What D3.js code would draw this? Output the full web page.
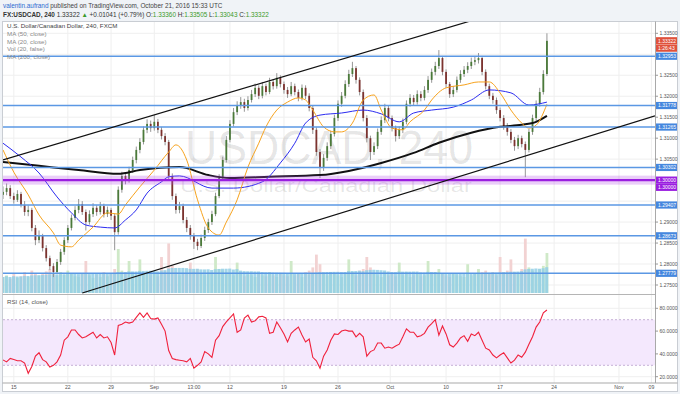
<!DOCTYPE html>
<html>
<head>
<meta charset="utf-8">
<script src="https://cdn.jsdelivr.net/npm/d3@7"></script>
<style>
  body { margin: 0; background: #f0f3f7; }
  svg { display: block; font-family: "Liberation Sans", Arial, sans-serif; }
</style>
</head>
<body>
<svg id="chart" width="680" height="394"></svg>
<script>
// ---- data (240 min USDCAD, one entry every ~8h) ----
const firstOpen = 1.2965;
const closes = [1.2972,1.2981,1.2962,1.2953,1.2967,1.2941,1.2924,1.2929,1.2886,1.2857,
1.2867,1.2838,1.2814,1.2795,1.2781,1.2805,1.2829,1.2857,1.2886,1.2910,
1.2929,1.2943,1.2924,1.2900,1.2919,1.2934,1.2924,1.2938,1.2919,1.2929,
1.2915,1.2876,1.2977,1.3010,1.3000,1.3024,1.3048,1.3072,1.3091,1.3120,
1.3134,1.3124,1.3139,1.3120,1.3105,1.3091,1.3010,1.2962,1.2929,1.2938,
1.2905,1.2886,1.2867,1.2853,1.2843,1.2862,1.2881,1.2900,1.2919,1.2962,
1.3005,1.3048,1.3096,1.3134,1.3162,1.3177,1.3186,1.3172,1.3191,1.3205,
1.3220,1.3201,1.3224,1.3210,1.3234,1.3224,1.3244,1.3229,1.3215,1.3205,
1.3224,1.3210,1.3196,1.3220,1.3201,1.3172,1.3120,1.3067,1.3029,1.3053,
1.3081,1.3110,1.3148,1.3182,1.3201,1.3229,1.3253,1.3267,1.3239,1.3210,
1.3148,1.3100,1.3067,1.3081,1.3115,1.3143,1.3172,1.3148,1.3124,1.3105,
1.3120,1.3139,1.3182,1.3196,1.3186,1.3205,1.3196,1.3215,1.3239,1.3258,
1.3272,1.3291,1.3258,1.3229,1.3205,1.3215,1.3239,1.3253,1.3263,1.3272,
1.3282,1.3286,1.3291,1.3258,1.3224,1.3201,1.3191,1.3167,1.3148,1.3129,
1.3115,1.3096,1.3081,1.3100,1.3086,1.3072,1.3115,1.3148,1.3182,1.3210,
1.3253,1.3332];
const highs = [1.2985,1.2992,1.2988,1.2970,1.2976,1.2972,1.2950,1.2940,1.2934,1.2893,
1.2880,1.2872,1.2845,1.2820,1.2802,1.2812,1.2836,1.2864,1.2893,1.2918,
1.2938,1.2955,1.2950,1.2930,1.2928,1.2945,1.2940,1.2948,1.2944,1.2937,
1.2934,1.2920,1.2985,1.3020,1.3018,1.3032,1.3056,1.3080,1.3100,1.3128,
1.3145,1.3142,1.3155,1.3146,1.3127,1.3112,1.3096,1.3016,1.2968,1.2948,
1.2944,1.2912,1.2893,1.2874,1.2860,1.2870,1.2889,1.2908,1.2927,1.2970,
1.3014,1.3056,1.3105,1.3143,1.3172,1.3188,1.3198,1.3194,1.3200,1.3215,
1.3230,1.3226,1.3234,1.3230,1.3244,1.3240,1.3255,1.3250,1.3235,1.3222,
1.3234,1.3230,1.3216,1.3228,1.3226,1.3207,1.3178,1.3126,1.3074,1.3062,
1.3090,1.3118,1.3156,1.3190,1.3210,1.3238,1.3263,1.3282,1.3272,1.3245,
1.3216,1.3155,1.3106,1.3090,1.3123,1.3152,1.3182,1.3178,1.3154,1.3130,
1.3128,1.3147,1.3190,1.3205,1.3203,1.3214,1.3212,1.3224,1.3248,1.3266,
1.3282,1.3310,1.3296,1.3264,1.3234,1.3224,1.3247,1.3262,1.3272,1.3281,
1.3292,1.3296,1.3303,1.3296,1.3264,1.3230,1.3208,1.3197,1.3173,1.3155,
1.3136,1.3122,1.3103,1.3108,1.3106,1.3092,1.3122,1.3156,1.3190,1.3220,
1.3262,1.3350];
const lows = [1.2955,1.2964,1.2955,1.2944,1.2948,1.2935,1.2915,1.2914,1.2878,1.2845,
1.2850,1.2830,1.2806,1.2786,1.2769,1.2776,1.2798,1.2822,1.2850,1.2880,
1.2904,1.2921,1.2917,1.2880,1.2894,1.2912,1.2915,1.2918,1.2911,1.2912,
1.2905,1.2833,1.2870,1.2970,1.2990,1.2994,1.3017,1.3040,1.3064,1.3085,
1.3112,1.3115,1.3118,1.3112,1.3097,1.3083,1.3002,1.2953,1.2920,1.2921,
1.2897,1.2876,1.2858,1.2836,1.2833,1.2838,1.2855,1.2874,1.2893,1.2914,
1.2957,1.3000,1.3042,1.3090,1.3128,1.3155,1.3170,1.3163,1.3166,1.3185,
1.3198,1.3193,1.3195,1.3202,1.3205,1.3216,1.3218,1.3221,1.3206,1.3196,
1.3200,1.3202,1.3188,1.3190,1.3193,1.3164,1.3110,1.3058,1.3005,1.3022,
1.3046,1.3074,1.3104,1.3141,1.3175,1.3195,1.3222,1.3246,1.3230,1.3202,
1.3140,1.3090,1.3048,1.3060,1.3074,1.3108,1.3136,1.3140,1.3116,1.3092,
1.3098,1.3112,1.3133,1.3175,1.3178,1.3180,1.3188,1.3190,1.3208,1.3232,
1.3250,1.3265,1.3250,1.3220,1.3196,1.3198,1.3209,1.3232,1.3246,1.3255,
1.3265,1.3274,1.3278,1.3250,1.3216,1.3193,1.3182,1.3158,1.3140,1.3120,
1.3106,1.3088,1.3070,1.3074,1.3078,1.3007,1.3066,1.3108,1.3140,1.3175,
1.3204,1.3248];
const volumes = [20,22,18,24,19,21,26,20,28,24,
22,25,27,30,24,22,26,23,28,25,
21,20,24,40,22,19,23,20,26,21,
24,30,55,28,26,40,24,22,42,25,
24,22,26,21,45,28,62,34,26,22,
25,24,38,27,30,24,22,26,24,45,
30,28,26,24,22,38,24,21,23,22,
20,24,22,21,26,22,20,24,22,21,
40,22,24,20,26,28,32,48,36,24,
22,26,24,22,20,24,42,26,22,28,
30,45,32,24,22,20,26,22,24,21,
38,22,26,20,22,24,21,22,40,24,
26,30,24,22,20,24,22,21,20,36,
22,24,30,26,28,24,26,22,45,26,
28,42,26,24,30,68,32,28,26,30,
34,50];
const rsi = [34.7,33,36,35,34,34,32,23,29,38,
41,35,33,28.5,30,33,39,52,55,61,
61,57,54,55,57,59,54,57,54,55,
50,39,65,66,68,67,68,72,76,72,
76,71,70.5,71.5,66,60,43,36,35,34.5,
34,33,36,27.5,30,33,42,40,37,52,
56,64,68,71.5,75,59,61,71.5,74,68,
69,72.5,73,71.5,58,59,68,63,57.5,50.5,
58,61,63.5,56.5,50.5,53,37,34,27.5,38,
43.5,52,57.5,57,60,61,60,60,55,58,
55,38,42,43.5,49.5,49.5,45,46,45,47,
48.5,55,62,59,59,55,56,58,63.5,66.5,
70,56.5,64.5,57.5,48,46,49.5,54,56,51,
57.5,56,59,52,45,43.5,39,36.5,39,41,
36.5,32,34.5,39,37,41.5,48.5,55,63.5,68,
76,78.5];

// moving averages: [bar index, price]
const ma200 = [[0,1.3043],[10,1.3034],[21,1.3024],[32,1.3015],[38,1.3024],[49,1.3031],[57,1.3012],[63,1.3005],[74,1.3008],[88,1.3012],[96,1.3022],[105,1.3041],[114,1.3065],[121,1.3089],[130,1.3113],[138,1.3127],[144,1.3132],[148,1.3139],[151,1.3153]];
const ma50 = [[0,1.3088],[5,1.3055],[10,1.3017],[15,1.2960],[19,1.2922],[23,1.2893],[27,1.2888],[31,1.2886],[34,1.2905],[37,1.2929],[40,1.2969],[44,1.2996],[46,1.3008],[49,1.3010],[58,1.2981],[64,1.2981],[72,1.2996],[77,1.3041],[81,1.3088],[84,1.3136],[88,1.3155],[94,1.3160],[100,1.3167],[105,1.3158],[110,1.3139],[114,1.3160],[119,1.3167],[125,1.3174],[130,1.3191],[135,1.3215],[141,1.3208],[146,1.3179],[151,1.3186]];
const ma20 = [[0,1.3072],[3,1.3019],[7,1.2965],[10,1.2917],[14,1.2874],[16,1.2845],[19,1.2841],[21,1.2857],[25,1.2888],[29,1.2922],[32,1.2919],[34,1.2941],[38,1.2984],[42,1.3024],[46,1.3067],[48,1.3084],[51,1.3048],[54,1.2953],[57,1.2886],[60,1.2869],[62,1.2900],[65,1.2953],[68,1.3031],[71,1.3088],[73,1.3127],[76,1.3167],[79,1.3186],[82,1.3196],[84,1.3191],[86,1.3167],[89,1.3127],[92,1.3115],[94,1.3115],[97,1.3136],[100,1.3191],[103,1.3203],[105,1.3167],[108,1.3124],[111,1.3120],[113,1.3139],[117,1.3167],[119,1.3191],[123,1.3220],[128,1.3227],[132,1.3234],[135,1.3234],[138,1.3208],[141,1.3167],[144,1.3136],[146,1.3124],[148,1.3131],[151,1.3181]];

// drawings
const trendLines = [[[0,1.3048],[130,1.3380]], [[22,1.2731],[181,1.3153]]];
const levels = [1.32953, 1.31778, 1.31265, 1.30302, 1.29407, 1.28673, 1.27779];
const roundLevel = 1.30000;
const lastPrice = 1.33322;
const countdown = '1:26:43';

// axes
const dateTicks = [3,18,30,42,53,63,78,93,107.5,123,138,153,171,180];
const dateLabels = ['15','22','29','Sep','13:00','12','19','26','Oct','10','17','24','Nov','09'];
const priceTicks = [1.275,1.280,1.285,1.290,1.295,1.300,1.305,1.310,1.315,1.320,1.325,1.330,1.335];
const rsiTicks = [20,40,60,80];

const legendLines = ['MA (50, close)','MA (20, close)','Vol (20, false)','MA (200, close)'];

// ---- scales ----
const left = 3, right = 655;
const x = d3.scaleLinear().domain([0,181]).range([left, right]);
const y = d3.scaleLinear().domain([1.275,1.335]).range([285,33.3]);
const yRsi = d3.scaleLinear().domain([20,80]).range([376.7,308.3]);
const yVol = d3.scaleLinear().domain([0,100]).range([293,213]);

const svg = d3.select('#chart');
const defs = svg.append('defs');
defs.append('clipPath').attr('id','clipMain').append('rect')
  .attr('x',left).attr('y',22).attr('width',right-left).attr('height',272);
defs.append('clipPath').attr('id','clipRsi').append('rect')
  .attr('x',left).attr('y',295).attr('width',right-left).attr('height',88);

// frame
svg.append('rect').attr('x',2.5).attr('y',21.5).attr('width',675).attr('height',370)
  .attr('fill','#fff').attr('stroke','#c9cdd3');

// header
const h1 = svg.append('text').attr('x',3).attr('y',8).attr('font-size',6.4).attr('fill','#444');
h1.append('tspan').attr('fill','#2c6bd0').text('valentin.aufrand');
h1.append('tspan').text(' published on TradingView.com, October 21, 2016 15:33 UTC');
const h2 = svg.append('text').attr('x',3).attr('y',17.3).attr('font-size',6.4).attr('fill','#333');
h2.append('tspan').attr('font-weight','bold').text('FX:USDCAD, 240');
h2.append('tspan').text(' 1.33322 ');
h2.append('tspan').attr('fill','#3c9a2a').text('\u25B2');
h2.append('tspan').text(' +0.01041 (+0.79%) O:');
h2.append('tspan').attr('fill','#3c9a2a').text('1.33360');
h2.append('tspan').text(' H:');
h2.append('tspan').attr('fill','#3c9a2a').text('1.33505');
h2.append('tspan').text(' L:');
h2.append('tspan').attr('fill','#3c9a2a').text('1.33043');
h2.append('tspan').text(' C:');
h2.append('tspan').attr('fill','#3c9a2a').text('1.33322');

// grid
const grid = svg.append('g').attr('stroke','#efefef').attr('stroke-width',1);
dateTicks.forEach(function (t) {
  grid.append('line').attr('x1',x(t)).attr('x2',x(t)).attr('y1',22).attr('y2',383);
});
priceTicks.forEach(function (t) {
  grid.append('line').attr('x1',left).attr('x2',right).attr('y1',y(t)).attr('y2',y(t));
});
rsiTicks.forEach(function (t) {
  grid.append('line').attr('x1',left).attr('x2',right).attr('y1',yRsi(t)).attr('y2',yRsi(t));
});

const main = svg.append('g').attr('clip-path','url(#clipMain)');

// watermark
main.append('text').attr('x',329).attr('y',164).attr('text-anchor','middle')
  .attr('font-size',49).attr('textLength',288).attr('lengthAdjust','spacingAndGlyphs')
  .attr('fill','#000').attr('fill-opacity',0.1).text('USDCAD, 240');
main.append('text').attr('x',326).attr('y',192).attr('text-anchor','middle')
  .attr('font-size',19).attr('textLength',292).attr('lengthAdjust','spacingAndGlyphs')
  .attr('fill','#000').attr('fill-opacity',0.1).text('U.S. Dollar/Canadian Dollar');

// candles table
const bars = closes.map(function (c, i) {
  return { i: i, o: i === 0 ? firstOpen : closes[i-1], h: highs[i], l: lows[i], c: c, v: volumes[i] };
});

// volume
main.selectAll('rect.vol').data(bars).enter().append('rect')
  .attr('class','vol')
  .attr('x', function (d) { return x(d.i) - 1.4; })
  .attr('width', 2.8)
  .attr('y', function (d) { return yVol(d.v); })
  .attr('height', function (d) { return yVol(0) - yVol(d.v); })
  .attr('fill', function (d) { return d.c >= d.o ? '#cfe9c8' : '#f2d2d2'; });

// volume MA (20) columns
const volMa = bars.map(function (d, i) {
  return { i: i, v: d3.mean(volumes.slice(Math.max(0, i-19), i+1)) };
});
main.selectAll('rect.volma').data(volMa).enter().append('rect')
  .attr('class','volma')
  .attr('x', function (d) { return x(d.i) - 1.8; })
  .attr('width', 3.1)
  .attr('y', function (d) { return yVol(d.v); })
  .attr('height', function (d) { return yVol(0) - yVol(d.v); })
  .attr('fill', '#93cfe6').attr('fill-opacity',0.85);

// candles
const cg = main.append('g');
cg.selectAll('line.wick').data(bars).enter().append('line')
  .attr('class','wick')
  .attr('x1', function (d) { return x(d.i); })
  .attr('x2', function (d) { return x(d.i); })
  .attr('y1', function (d) { return y(d.h); })
  .attr('y2', function (d) { return y(d.l); })
  .attr('stroke','#8a8a8a').attr('stroke-width',0.9);
cg.selectAll('rect.body').data(bars).enter().append('rect')
  .attr('class','body')
  .attr('x', function (d) { return x(d.i) - 0.9; })
  .attr('width', 1.8)
  .attr('y', function (d) { return y(Math.max(d.o, d.c)); })
  .attr('height', function (d) { return Math.max(0.8, Math.abs(y(d.o) - y(d.c))); })
  .attr('fill', function (d) { return d.c >= d.o ? '#4b7a3a' : '#7c332f'; });

// moving averages
const maLine = d3.line()
  .x(function (d) { return x(d[0]); })
  .y(function (d) { return y(d[1]); })
  .curve(d3.curveMonotoneX);
main.append('path').attr('d', maLine(ma200)).attr('fill','none').attr('stroke','#111').attr('stroke-width',2);
main.append('path').attr('d', maLine(ma50)).attr('fill','none').attr('stroke','#2b2bf0').attr('stroke-width',1);
main.append('path').attr('d', maLine(ma20)).attr('fill','none').attr('stroke','#f7a21c').attr('stroke-width',1);

// round number band
main.append('rect').attr('x',left).attr('width',right-left)
  .attr('y', y(roundLevel) - 4.5).attr('height', 9)
  .attr('fill','#b44ee6').attr('fill-opacity',0.28);
main.append('line').attr('x1',left).attr('x2',right)
  .attr('y1', y(roundLevel)).attr('y2', y(roundLevel))
  .attr('stroke','#9a1ee0').attr('stroke-width',2.2);

// horizontal levels
main.selectAll('line.level').data(levels).enter().append('line')
  .attr('class','level')
  .attr('x1',left).attr('x2',right)
  .attr('y1', function (d) { return y(d); })
  .attr('y2', function (d) { return y(d); })
  .attr('stroke','#5b98e4').attr('stroke-width',1.5);

// trend lines
main.selectAll('line.trend').data(trendLines).enter().append('line')
  .attr('class','trend')
  .attr('x1', function (d) { return x(d[0][0]); })
  .attr('y1', function (d) { return y(d[0][1]); })
  .attr('x2', function (d) { return x(d[1][0]); })
  .attr('y2', function (d) { return y(d[1][1]); })
  .attr('stroke','#111').attr('stroke-width',1.2);

// legend
svg.append('text').attr('x',7).attr('y',28.3).attr('font-size',6.2).attr('fill','#444')
  .text('U.S. Dollar/Canadian Dollar, 240, FXCM');
svg.selectAll('text.leg').data(legendLines).enter().append('text')
  .attr('class','leg')
  .attr('x',7)
  .attr('y', function (d, i) { return 36 + i * 7.7; })
  .attr('font-size',6.2).attr('fill','#8a8a8a')
  .text(function (d) { return d; });

// ---- RSI pane ----
svg.append('line').attr('x1',2.5).attr('x2',right).attr('y1',294.5).attr('y2',294.5)
  .attr('stroke','#b5b5b5');
const rp = svg.append('g').attr('clip-path','url(#clipRsi)');
rp.append('rect').attr('x',left).attr('width',right-left)
  .attr('y', yRsi(70)).attr('height', yRsi(30) - yRsi(70))
  .attr('fill','#f4e8fd');
[70,30].forEach(function (v) {
  rp.append('line').attr('x1',left).attr('x2',right).attr('y1',yRsi(v)).attr('y2',yRsi(v))
    .attr('stroke','#c5b1d6').attr('stroke-dasharray','2,2');
});
const rsiLine = d3.line()
  .x(function (d, i) { return x(i); })
  .y(function (d) { return yRsi(d); });
rp.append('path').attr('d', rsiLine(rsi)).attr('fill','none')
  .attr('stroke','#f0213c').attr('stroke-width',1.1);
svg.append('text').attr('x',7).attr('y',304).attr('font-size',6.2).attr('fill','#555')
  .text('RSI (14, close)');

// ---- axes ----
svg.append('line').attr('x1',right+0.5).attr('x2',right+0.5).attr('y1',21.5).attr('y2',383)
  .attr('stroke','#a9a9a9');
svg.append('line').attr('x1',2.5).attr('x2',677.5).attr('y1',383).attr('y2',383)
  .attr('stroke','#a9a9a9');

const xAxis = svg.append('g').attr('font-size',5.2).attr('fill','#555');
dateTicks.forEach(function (t, k) {
  xAxis.append('text').attr('x', x(t)).attr('y', 389.3).attr('text-anchor','middle')
    .text(dateLabels[k]);
});

// price labels (drawn after so axis text can avoid them)
const labelYs = levels.map(function (d) { return y(d); })
  .concat([y(roundLevel), y(lastPrice)]);
const yAxis = svg.append('g').attr('font-size',5).attr('fill','#555');
priceTicks.forEach(function (t) {
  const py = y(t);
  if (labelYs.some(function (ly) { return Math.abs(ly - py) < 4; })) return;
  yAxis.append('line').attr('x1',right).attr('x2',right+3).attr('y1',py).attr('y2',py).attr('stroke','#999');
  yAxis.append('text').attr('x',right+4.5).attr('y',py + 1.8).text(t.toFixed(5));
});
rsiTicks.forEach(function (t) {
  const py = yRsi(t);
  yAxis.append('line').attr('x1',right).attr('x2',right+3).attr('y1',py).attr('y2',py).attr('stroke','#999');
  yAxis.append('text').attr('x',right+4.5).attr('y',py + 1.8).text(t.toFixed(4));
});

function tag(py, txt, color) {
  svg.append('rect').attr('x',right+1).attr('y',py-3.6).attr('width',21).attr('height',7.2)
    .attr('fill',color);
  svg.append('text').attr('x',right+3).attr('y',py+1.9).attr('font-size',5)
    .attr('fill','#fff').text(txt);
}
levels.forEach(function (d) { tag(y(d), d.toFixed(5), '#4587de'); });
tag(y(roundLevel), roundLevel.toFixed(5), '#9a1ee0');
tag(y(roundLevel) + 7.2, roundLevel.toFixed(5), '#9a1ee0');
tag(y(lastPrice), lastPrice.toFixed(5), '#e0513b');
tag(y(lastPrice) + 7.4, countdown, '#e0513b');
</script>
</body>
</html>
